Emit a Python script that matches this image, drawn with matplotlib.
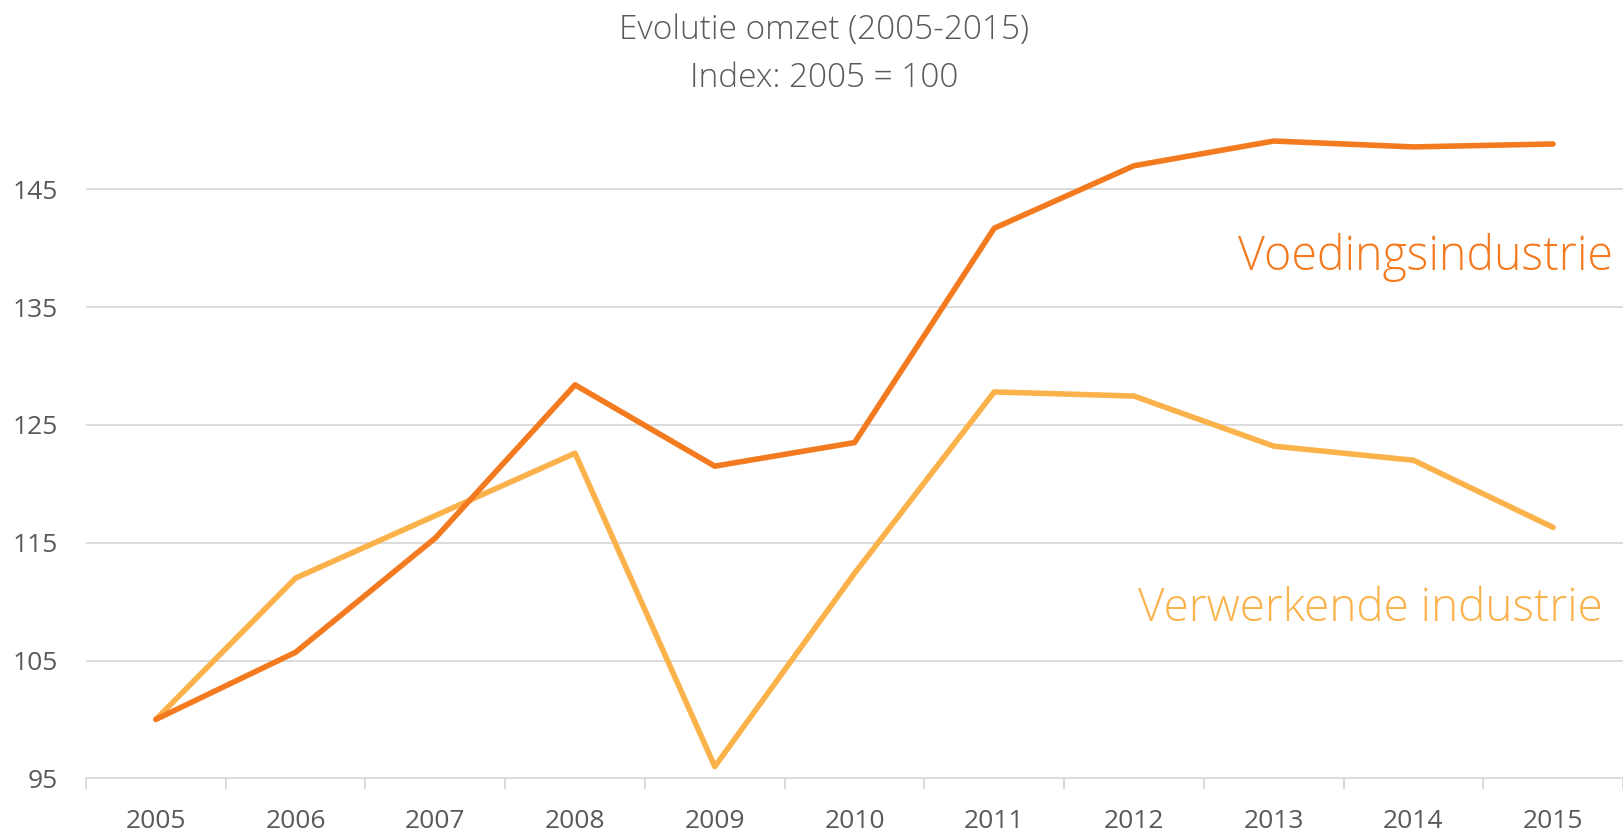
import matplotlib
matplotlib.use("Agg")
import matplotlib.pyplot as plt

years = ["2005", "2006", "2007", "2008", "2009", "2010", "2011", "2012", "2013", "2014", "2015"]
voeding = [100.0, 105.7, 115.4, 128.4, 121.5, 123.5, 141.7, 147.0, 149.1, 148.6, 148.85]
verwerkend = [100.0, 112.0, 117.3, 122.6, 96.0, 112.4, 127.8, 127.45, 123.2, 122.0, 116.3]
yticks = [95, 105, 115, 125, 135, 145]

title1 = "Evolutie omzet (2005-2015)"
title2 = "Index: 2005 = 100"
label_voeding = "Voedingsindustrie"
label_verwerkend = "Verwerkende industrie"

c_dark = "#F47A20"
c_light = "#FBB24A"
c_grid = "#D9D9D9"
c_text = "#595959"

plt.rcParams['font.family'] = ["Open Sans", 'DejaVu Sans']

fig = plt.figure(figsize=(16.23, 8.35), dpi=100)
ax = fig.add_axes([0.053, 0.0679, 0.947, 0.8438 - 0.0679])

x = list(range(len(years)))
ax.plot(x, verwerkend, color=c_light, lw=4.0, solid_joinstyle='round', solid_capstyle='round', zorder=3)
ax.plot(x, voeding, color=c_dark, lw=4.0, solid_joinstyle='round', solid_capstyle='round', zorder=4)

ax.set_xlim(-0.5, len(years) - 0.5)
ax.set_ylim(95, 150)
ax.set_yticks(yticks)
ax.set_yticklabels([str(v) for v in yticks])
ax.set_xticks(x)
ax.set_xticklabels(years)
ax.set_xticks([i - 0.5 for i in range(len(years) + 1)], minor=True)

for v in yticks[1:]:
    ax.axhline(v, color=c_grid, lw=1.3, zorder=1)

for s in ["top", "right", "left"]:
    ax.spines[s].set_visible(False)
ax.spines["bottom"].set_color(c_grid)
ax.spines["bottom"].set_linewidth(1.3)

ax.tick_params(axis='y', length=0, pad=20, labelsize=19, labelcolor=c_text)
ax.tick_params(axis='x', which='major', length=0, pad=22, labelsize=19, labelcolor=c_text)
ax.tick_params(axis='x', which='minor', length=8, width=1.3, color=c_grid)

fig.text(0.508, 0.9533, title1, ha='center', va='baseline', fontsize=24, color=c_text, fontweight='light')
fig.text(0.508, 0.8958, title2, ha='center', va='baseline', fontsize=24, color=c_text, fontweight='light')

fig.text(0.9935, 0.6766, label_voeding, ha='right', va='baseline',
         fontsize=33.5, color=c_dark, fontweight='light')
fig.text(0.9877, 0.2563, label_verwerkend, ha='right', va='baseline',
         fontsize=33, color=c_light, fontweight='light')

fig.savefig("out.png", dpi=100)
